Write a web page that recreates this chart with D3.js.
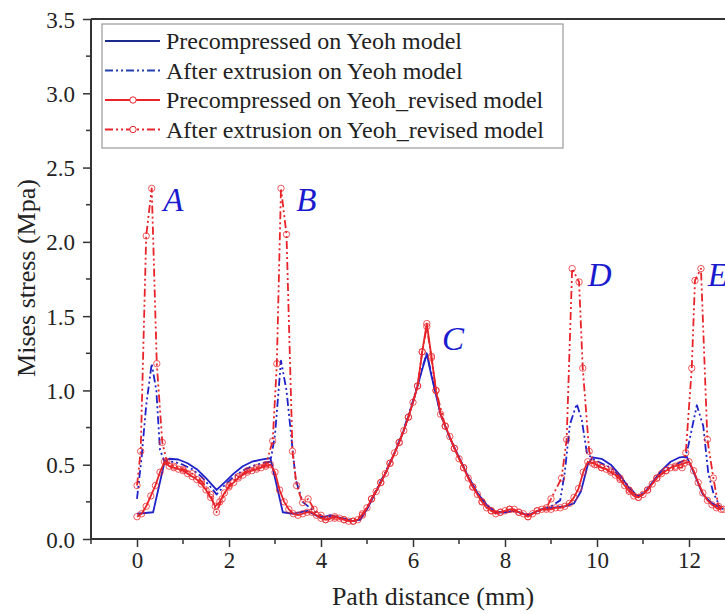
<!DOCTYPE html>
<html>
<head>
<meta charset="utf-8">
<script src="https://cdnjs.cloudflare.com/ajax/libs/d3/7.8.5/d3.min.js"></script>
<style>
body { margin: 0; background: #fff; }
svg text { font-family: "Liberation Serif", "DejaVu Serif", "Times New Roman", serif; fill: #222; }
.tick-label { font-size: 23px; }
.axis-title { font-size: 26px; }
.legend-label { font-size: 24px; }
.peak-label { font-size: 33px; font-style: italic; }
</style>
</head>
<body>
<div id="plot"></div>
<script>
const CANVAS_WIDTH  = 725;
const CANVAS_HEIGHT = 614;

const PLOT_LEFT   = 91;
const PLOT_TOP    = 19;
const PLOT_BOTTOM = 539;
const MM_TO_PX    = 46;

const X_MIN = -1, X_MAX = 13;
const Y_MIN = 0,  Y_MAX = 3.5;

const FONT = "'Liberation Serif', 'DejaVu Serif', serif";
const BLUE = "#1e22c8";
const RED  = "#e8242a";
const DASH_DOT_DOT = "8,3,2,3,2,3";

const X_TICKS       = [0, 2, 4, 6, 8, 10, 12];
const X_MINOR_TICKS = [-1, 1, 3, 5, 7, 9, 11];
const Y_TICKS       = [0, 0.5, 1.0, 1.5, 2.0, 2.5, 3.0, 3.5];
const Y_MINOR_TICKS = [0.25, 0.75, 1.25, 1.75, 2.25, 2.75, 3.25];

// Precompressed on Yeoh model (blue solid)
const preYeoh = [
    [0, 0.17], [0.35, 0.18], [0.6, 0.52], [0.7, 0.54], [0.9, 0.535], [1.1, 0.51],
    [1.3, 0.47], [1.5, 0.41], [1.73, 0.33], [1.9, 0.38], [2.1, 0.44], [2.3, 0.49],
    [2.5, 0.52], [2.7, 0.535], [2.9, 0.545], [3.17, 0.18], [3.4, 0.17], [3.7, 0.19],
    [4.0, 0.14], [4.2, 0.16], [4.45, 0.14], [4.7, 0.12], [4.85, 0.13], [5.0, 0.2],
    [5.2, 0.32], [5.4, 0.44], [5.6, 0.58], [5.8, 0.73], [6.0, 0.92], [6.2, 1.14],
    [6.3, 1.245], [6.4, 1.1], [6.6, 0.84], [6.8, 0.68], [7.0, 0.55], [7.2, 0.42],
    [7.4, 0.31], [7.6, 0.23], [7.8, 0.18], [8.0, 0.18], [8.2, 0.19], [8.5, 0.16],
    [8.8, 0.2], [9.0, 0.21], [9.3, 0.22], [9.5, 0.24], [9.65, 0.32], [9.8, 0.5],
    [9.9, 0.55], [10.1, 0.54], [10.3, 0.5], [10.5, 0.43], [10.7, 0.34], [10.87, 0.285],
    [11.0, 0.3], [11.2, 0.38], [11.4, 0.46], [11.6, 0.52], [11.8, 0.55], [11.95, 0.555],
    [12.1, 0.45], [12.3, 0.3], [12.5, 0.24], [12.75, 0.2]
];

// After extrusion on Yeoh model (blue dash-dot-dot)
const afterYeoh = [
    [0, 0.27], [0.1, 0.55], [0.2, 0.9], [0.32, 1.18], [0.42, 1.0], [0.5, 0.6],
    [0.6, 0.52], [0.8, 0.52], [1.0, 0.5], [1.2, 0.47], [1.4, 0.42], [1.6, 0.35],
    [1.73, 0.3], [1.9, 0.36], [2.1, 0.42], [2.3, 0.46], [2.5, 0.49], [2.7, 0.51],
    [2.9, 0.52], [3.0, 0.7], [3.13, 1.2], [3.25, 1.0], [3.35, 0.7], [3.45, 0.4],
    [3.6, 0.25], [3.8, 0.2], [4.0, 0.15], [4.2, 0.15], [4.45, 0.14], [4.7, 0.12],
    [4.85, 0.13], [5.0, 0.21], [5.2, 0.33], [5.4, 0.45], [5.6, 0.58], [5.8, 0.74],
    [6.0, 0.93], [6.2, 1.15], [6.3, 1.25], [6.4, 1.11], [6.6, 0.84], [6.8, 0.68],
    [7.0, 0.55], [7.2, 0.42], [7.4, 0.31], [7.6, 0.23], [7.8, 0.18], [8.0, 0.18],
    [8.2, 0.19], [8.5, 0.16], [8.8, 0.2], [9.0, 0.22], [9.2, 0.26], [9.3, 0.45],
    [9.41, 0.77], [9.56, 0.91], [9.67, 0.8], [9.78, 0.58], [9.9, 0.54], [10.1, 0.51],
    [10.3, 0.48], [10.5, 0.42], [10.7, 0.35], [10.87, 0.29], [11.1, 0.33], [11.3, 0.41],
    [11.5, 0.47], [11.7, 0.5], [11.9, 0.53], [11.98, 0.62], [12.17, 0.9], [12.31, 0.76],
    [12.42, 0.44], [12.53, 0.31], [12.7, 0.2]
];

// Precompressed on Yeoh_revised model (red solid, circles)
const preRevised = [
    [0.0, 0.15], [0.1, 0.17], [0.2, 0.22], [0.3, 0.29], [0.4, 0.36], [0.5, 0.45],
    [0.6, 0.52], [0.7, 0.49], [0.8, 0.48], [0.9, 0.47], [1.0, 0.46], [1.1, 0.44],
    [1.2, 0.42], [1.3, 0.4], [1.4, 0.37], [1.5, 0.33], [1.6, 0.28], [1.7, 0.22],
    [1.8, 0.25], [1.9, 0.31], [2.0, 0.35], [2.1, 0.38], [2.2, 0.41], [2.3, 0.43],
    [2.4, 0.45], [2.5, 0.46], [2.6, 0.47], [2.7, 0.48], [2.8, 0.49], [2.9, 0.5],
    [3.0, 0.45], [3.1, 0.33], [3.2, 0.25], [3.3, 0.2], [3.4, 0.17], [3.5, 0.16],
    [3.6, 0.17], [3.7, 0.18], [3.8, 0.18], [3.9, 0.16], [4.0, 0.14], [4.1, 0.13],
    [4.2, 0.14], [4.3, 0.15], [4.4, 0.14], [4.5, 0.13], [4.6, 0.12], [4.7, 0.12],
    [4.8, 0.13], [4.9, 0.17], [5.0, 0.21], [5.1, 0.27], [5.2, 0.32], [5.3, 0.38],
    [5.4, 0.44], [5.5, 0.51], [5.6, 0.58], [5.7, 0.65], [5.8, 0.73], [5.9, 0.82],
    [6.0, 0.92], [6.1, 1.03], [6.2, 1.26], [6.3, 1.45], [6.4, 1.23], [6.5, 1.0],
    [6.6, 0.84], [6.7, 0.76], [6.8, 0.69], [6.9, 0.61], [7.0, 0.54], [7.1, 0.48],
    [7.2, 0.41], [7.3, 0.35], [7.4, 0.3], [7.5, 0.25], [7.6, 0.21], [7.7, 0.19],
    [7.8, 0.17], [7.9, 0.18], [8.0, 0.19], [8.1, 0.2], [8.2, 0.2], [8.3, 0.18],
    [8.4, 0.17], [8.5, 0.15], [8.6, 0.17], [8.7, 0.19], [8.8, 0.2], [8.9, 0.2],
    [9.0, 0.2], [9.1, 0.21], [9.2, 0.21], [9.3, 0.22], [9.4, 0.24], [9.5, 0.28],
    [9.6, 0.34], [9.7, 0.45], [9.8, 0.52], [9.9, 0.51], [10.0, 0.5], [10.1, 0.48],
    [10.2, 0.47], [10.3, 0.45], [10.4, 0.43], [10.5, 0.4], [10.6, 0.36], [10.7, 0.32],
    [10.8, 0.29], [10.9, 0.28], [11.0, 0.3], [11.1, 0.33], [11.2, 0.37], [11.3, 0.41],
    [11.4, 0.44], [11.5, 0.46], [11.6, 0.48], [11.7, 0.49], [11.8, 0.5], [11.9, 0.51],
    [12.0, 0.52], [12.1, 0.46], [12.2, 0.38], [12.3, 0.31], [12.4, 0.26], [12.5, 0.23],
    [12.6, 0.21], [12.7, 0.2]
];

// After extrusion on Yeoh_revised model (red dash-dot-dot, circles)
const afterRevised = [
    [0.0, 0.36], [0.08, 0.59], [0.2, 2.04], [0.32, 2.36], [0.43, 1.18], [0.55, 0.65],
    [0.65, 0.52], [0.8, 0.49], [1.0, 0.47], [1.2, 0.44], [1.4, 0.39], [1.6, 0.3],
    [1.73, 0.18], [1.85, 0.27], [2.0, 0.36], [2.2, 0.42], [2.4, 0.46], [2.6, 0.48],
    [2.8, 0.5], [2.95, 0.66], [3.04, 1.18], [3.13, 2.36], [3.25, 2.05], [3.38, 0.59],
    [3.47, 0.36], [3.6, 0.245], [3.72, 0.27], [3.85, 0.2], [4.0, 0.16], [4.1, 0.13],
    [4.3, 0.14], [4.5, 0.13], [4.7, 0.12], [4.9, 0.16], [5.1, 0.27], [5.3, 0.38],
    [5.5, 0.51], [5.7, 0.65], [5.9, 0.82], [6.1, 1.03], [6.2, 1.26], [6.3, 1.43],
    [6.4, 1.22], [6.5, 1.0], [6.7, 0.76], [6.9, 0.61], [7.1, 0.48], [7.3, 0.35],
    [7.5, 0.25], [7.7, 0.19], [7.9, 0.18], [8.1, 0.2], [8.3, 0.18], [8.5, 0.15],
    [8.7, 0.19], [8.9, 0.21], [9.0, 0.27], [9.23, 0.41], [9.34, 0.67], [9.46, 1.82],
    [9.61, 1.73], [9.69, 1.15], [9.83, 0.59], [9.95, 0.5], [10.1, 0.48], [10.3, 0.46],
    [10.5, 0.41], [10.7, 0.33], [10.9, 0.28], [11.1, 0.33], [11.3, 0.41], [11.5, 0.46],
    [11.7, 0.48], [11.85, 0.48], [11.93, 0.58], [12.06, 1.15], [12.13, 1.74], [12.26, 1.82],
    [12.4, 0.67], [12.53, 0.41], [12.64, 0.22], [12.75, 0.2]
];

const SERIES = [
    {'name': "Precompressed on Yeoh model",
     'data': preYeoh, 'color': BLUE, 'legendColor': "#1c2a8c", 'dash': null, 'markers': false},
    {'name': "After extrusion on Yeoh model",
     'data': afterYeoh, 'color': BLUE, 'legendColor': "#2040b0", 'dash': DASH_DOT_DOT, 'markers': false},
    {'name': "Precompressed on Yeoh_revised model",
     'data': preRevised, 'color': RED, 'legendColor': RED, 'dash': null, 'markers': true},
    {'name': "After extrusion on Yeoh_revised model",
     'data': afterRevised, 'color': RED, 'legendColor': RED, 'dash': DASH_DOT_DOT, 'markers': true}
];

const PEAK_LABELS = ["A", "B", "C", "D", "E"];
const PEAK_X      = [0.57, 3.46, 6.63, 9.8, 12.41];
const PEAK_Y      = [2.21, 2.21, 1.27, 1.70, 1.70];

var svg = d3.select("#plot")
            .append("svg")
            .attr("width", CANVAS_WIDTH)
            .attr("height", CANVAS_HEIGHT)
            .style("font-family", FONT);

var xScale = d3.scaleLinear()
               .domain([X_MIN, X_MAX])
               .range([PLOT_LEFT, PLOT_LEFT + (X_MAX - X_MIN) * MM_TO_PX]);
var yScale = d3.scaleLinear()
               .domain([Y_MIN, Y_MAX])
               .range([PLOT_BOTTOM, PLOT_TOP]);

// frame: top line
svg.append("line")
   .attr("x1", PLOT_LEFT).attr("x2", CANVAS_WIDTH)
   .attr("y1", PLOT_TOP).attr("y2", PLOT_TOP)
   .attr("stroke", "#333").attr("stroke-width", 2);

// axes
var xAxis = d3.axisBottom(xScale).tickValues(X_TICKS).tickSize(8)
              .tickFormat(d3.format("d"));
var gx = svg.append("g")
            .attr("transform", "translate(0," + PLOT_BOTTOM + ")")
            .call(xAxis);
gx.append("g").selectAll("line")
  .data(X_MINOR_TICKS).enter().append("line")
  .attr("x1", d => xScale(d)).attr("x2", d => xScale(d))
  .attr("y1", 0).attr("y2", 5);

var yAxis = d3.axisLeft(yScale).tickValues(Y_TICKS).tickSize(8)
              .tickFormat(d3.format(".1f"));
var gy = svg.append("g")
            .attr("transform", "translate(" + PLOT_LEFT + ",0)")
            .call(yAxis);
gy.append("g").selectAll("line")
  .data(Y_MINOR_TICKS).enter().append("line")
  .attr("y1", d => yScale(d)).attr("y2", d => yScale(d))
  .attr("x1", 0).attr("x2", -5);

[gx, gy].forEach(function(g) {
    g.attr("font-family", FONT).attr("font-size", 23);
    g.select(".domain").attr("stroke", "#333").attr("stroke-width", 2);
    g.selectAll("line").attr("stroke", "#333").attr("stroke-width", 1.5);
    g.selectAll(".tick text").attr("class", "tick-label").attr("fill", "#222");
});
gx.select(".domain").attr("d", "M" + PLOT_LEFT + ",0H" + CANVAS_WIDTH);
gy.select(".domain").attr("d", "M0," + PLOT_BOTTOM + "V" + PLOT_TOP);
gx.selectAll(".tick text").attr("y", 13).attr("dy", "0.71em");
gy.selectAll(".tick text").attr("x", -16).attr("dy", "0.35em");

// axis titles
svg.append("text")
   .attr("class", "axis-title")
   .attr("text-anchor", "middle")
   .attr("x", 433)
   .attr("y", 605)
   .text("Path distance (mm)");
svg.append("text")
   .attr("class", "axis-title")
   .attr("text-anchor", "middle")
   .attr("transform", "translate(35,278) rotate(-90)")
   .text("Mises stress (Mpa)");

// series
var lineGenerator = d3.line()
                      .x(d => xScale(d[0]))
                      .y(d => yScale(d[1]));

SERIES.forEach(function(s) {
    svg.append("path")
       .attr("d", lineGenerator(s.data))
       .attr("fill", "none")
       .attr("stroke", s.color)
       .attr("stroke-width", 1.8)
       .attr("stroke-linejoin", "round")
       .attr("stroke-dasharray", s.dash);
    if (s.markers) {
        svg.append("g").selectAll("circle")
           .data(s.data).enter().append("circle")
           .attr("cx", d => xScale(d[0]))
           .attr("cy", d => yScale(d[1]))
           .attr("r", 3.2)
           .attr("fill", "none")
           .attr("stroke", s.color)
           .attr("stroke-opacity", 0.75)
           .attr("stroke-width", 1);
    }
});

// peak labels
svg.selectAll(".peak-label")
   .data(PEAK_LABELS).enter().append("text")
   .attr("class", "peak-label")
   .attr("x", (d, i) => xScale(PEAK_X[i]))
   .attr("y", (d, i) => yScale(PEAK_Y[i]))
   .style("fill", "#1a1acf")
   .text(d => d);

// legend
var legend = svg.append("g");
legend.append("rect")
      .attr("x", 102).attr("y", 24)
      .attr("width", 461).attr("height", 124)
      .attr("fill", "#fff")
      .attr("stroke", "#999")
      .attr("stroke-width", 1.2);

SERIES.forEach(function(s, i) {
    var yRow = 41 + i * 29.5;
    legend.append("line")
          .attr("x1", 105).attr("x2", 160)
          .attr("y1", yRow).attr("y2", yRow)
          .attr("stroke", s.legendColor)
          .attr("stroke-width", 1.8)
          .attr("stroke-dasharray", s.dash);
    if (s.markers) {
        legend.append("circle")
              .attr("cx", 133).attr("cy", yRow).attr("r", 3.2)
              .attr("fill", "#fff")
              .attr("stroke", s.color)
              .attr("stroke-width", 1);
    }
    legend.append("text")
          .attr("class", "legend-label")
          .attr("x", 166)
          .attr("y", yRow)
          .attr("dy", "0.35em")
          .text(s.name);
});
</script>
</body>
</html>
